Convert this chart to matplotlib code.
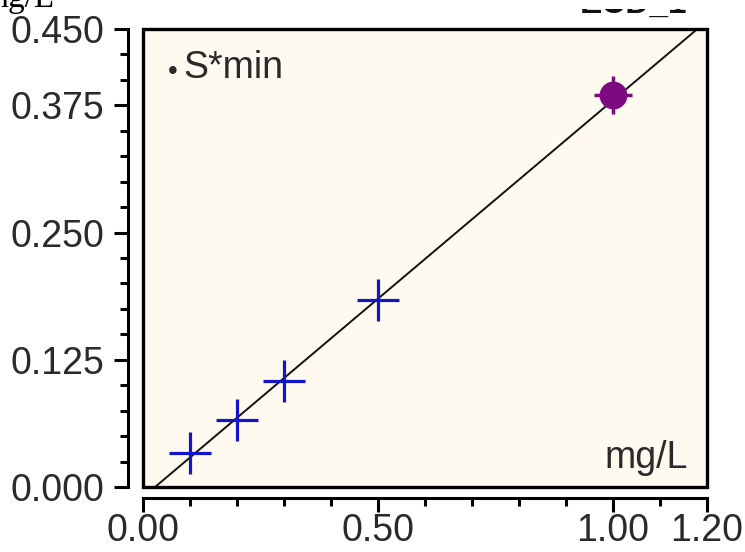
import numpy as np
import matplotlib.pyplot as plt
from matplotlib.patches import Rectangle

# calibration standards (amount in mg/L vs response)
std_amount = [0.10, 0.20, 0.30, 0.50]
std_area = [0.033, 0.066, 0.104, 0.184]

# sample point
smp_amount = [1.00]
smp_area = [0.385]

# linear fit
slope = 0.390
intercept = -0.010

xticks = [0.0, 0.5, 1.0, 1.2]
xticklabels = ["0.00", "0.50", "1.00", "1.20"]
yticks = [0.0, 0.125, 0.25, 0.375, 0.45]
yticklabels = ["0.000", "0.125", "0.250", "0.375", "0.450"]

plt.rcParams['font.family'] = ['Liberation Sans', 'DejaVu Sans']
txt_color = '#2a2a2a'

fig = plt.figure(figsize=(7.45, 5.52), dpi=100)
ax = fig.add_axes([143/745, 65/552, 564/745, 458/552])
ax.set_xlim(0, 1.2)
ax.set_ylim(0, 0.45)
ax.set_facecolor('#FFFAEF')

# frame around the plot area
ax.add_patch(Rectangle((0, 0), 1, 1, transform=ax.transAxes, fill=False,
                       lw=2.4, ec='black', clip_on=False, zorder=5))

# detached axis lines
ax.spines['top'].set_visible(False)
ax.spines['right'].set_visible(False)
ax.spines['left'].set_position(('outward', 11))
ax.spines['bottom'].set_position(('outward', 8))
ax.spines['left'].set_bounds(0, 0.45)
ax.spines['bottom'].set_bounds(0, 1.2)
for s in ('left', 'bottom'):
    ax.spines[s].set_linewidth(2.2)

ax.set_xticks(xticks)
ax.set_xticklabels(xticklabels)
ax.set_xticks(np.arange(0.1, 1.2, 0.1), minor=True)
ax.set_yticks(yticks)
ax.set_yticklabels(yticklabels)
ax.set_yticks(np.arange(0.025, 0.45, 0.025), minor=True)
ax.tick_params(which='major', direction='out', length=10, width=2.2,
               labelsize=27, labelcolor=txt_color, pad=1)
ax.tick_params(which='minor', direction='out', length=6, width=2.2)
ax.tick_params(axis='y', which='major', pad=7)

xs = np.array([0.0, 1.2])
ax.plot(xs, slope * xs + intercept, color='#111111', lw=1.4, zorder=2)

ax.plot(std_amount, std_area, '+', ms=30, mew=2.3, color='#1414C8', zorder=3)
ax.plot(smp_amount, smp_area, '+', ms=27, mew=2.5, color='#7D0A80', zorder=3)
ax.plot(smp_amount, smp_area, 'o', ms=19, color='#7D0A80', mec='#7D0A80', zorder=3)

ax.text(0.052, 0.907, "\u2022", transform=ax.transAxes, fontsize=20,
        va='center', ha='center', color=txt_color)
ax.text(0.071, 0.893, "S*min", transform=ax.transAxes, fontsize=27,
        va='baseline', ha='left', color=txt_color)
ax.text(0.966, 0.041, "mg/L", transform=ax.transAxes, fontsize=27,
        va='baseline', ha='right', color=txt_color)

# header text running off the top edge
fig.text(55/745, 1 - 7/552, "mg/L", fontsize=24, family='Liberation Serif',
         ha='right', va='baseline')
fig.text(580/745, 1 - 13/552, "ECD_1", fontsize=24, fontweight='bold',
         ha='left', va='baseline', color='#111111')
fig.patches.append(Rectangle((560/745, 1 - 9/552), 185/745, 9/552,
                             transform=fig.transFigure, fc='white', ec='none',
                             zorder=10))

fig.savefig('out.png', dpi=100)
